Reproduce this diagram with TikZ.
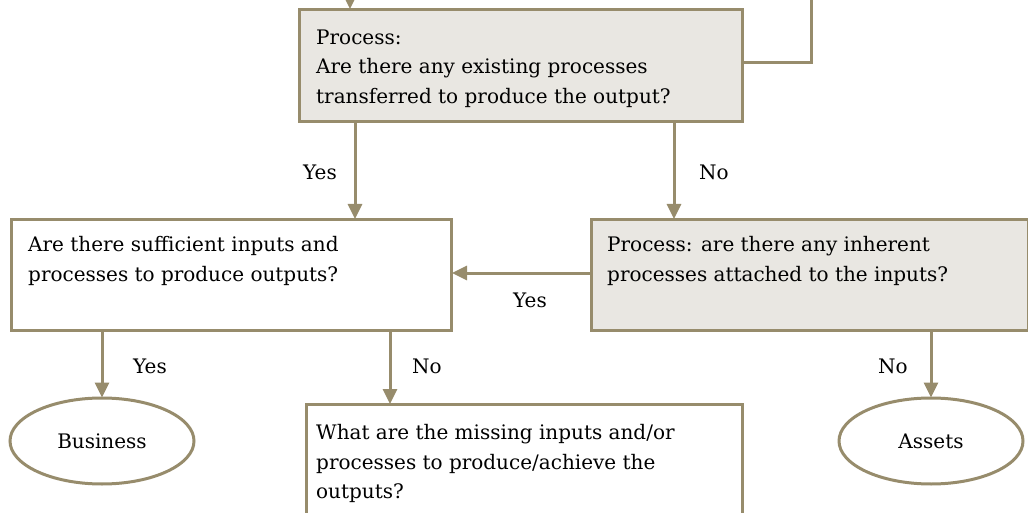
\documentclass[tikz,border=0pt]{standalone}
\usepackage{fontspec}
\setmainfont{DejaVu Serif}
\usetikzlibrary{arrows.meta,shapes.geometric}
\definecolor{edge}{HTML}{978C6C}
\definecolor{shade}{HTML}{E9E7E2}
\tikzset{
  box/.style={draw=edge, line width=3pt, rectangle, inner sep=0pt, anchor=north west},
  greybox/.style={box, fill=shade},
  oval/.style={draw=edge, line width=3pt, ellipse, inner sep=0pt, minimum width=184pt, minimum height=86pt, font=\fontsize{20}{25}\selectfont},
  txt/.style={inner sep=0pt, anchor=north west, align=left, font=\fontsize{20}{29.5}\selectfont},
  lbl/.style={inner sep=0pt, font=\fontsize{20}{25}\selectfont},
  conn/.style={draw=edge, line width=3pt},
  arr/.style={conn, -{Triangle[length=15pt,width=14pt]}, shorten >=-1pt}
}
\begin{document}
\begin{tikzpicture}[x=1pt,y=-1pt]
\useasboundingbox (0,0) rectangle (1028,513);
\clip (0,0) rectangle (1028,513);
% boxes
\node[greybox, minimum width=443pt, minimum height=112pt] (top) at (298,8) {};
\node[box, minimum width=440pt, minimum height=111pt] (left) at (10,218) {};
\node[greybox, minimum width=437pt, minimum height=111pt] (right) at (590,218) {};
\node[box, minimum width=436pt, minimum height=130pt] (bottom) at (305,403) {};
\node[oval] (business) at (102,441) {Business};
\node[oval] (assets) at (931,441) {Assets};
% texts
\node[txt] (toptext) at (316,29.5) {Process:\\Are there any existing processes\\transferred to produce the output?};
\node[txt] (lefttext) at (28,236.5) {Are there sufficient inputs and\\processes to produce outputs?};
\node[txt] (righttext) at (607,236.5) {Process: are there any inherent\\processes attached to the inputs?};
\node[txt] (bottomtext) at (316,424.5) {What are the missing inputs and/or\\processes to produce/achieve the\\outputs?};
% connectors
\coordinate (inTop) at (350,-5);
\coordinate (outTop) at (811,-5);
\draw[arr] (inTop) -- (inTop |- top.north);
\draw[conn] (top.east |- 0,63) -| (outTop);
\draw[arr] (top.south -| 355,0) -- (left.north -| 355,0);
\draw[arr] (top.south -| 674,0) -- (right.north -| 674,0);
\draw[arr] (right.west |- 0,273) -- (left.east |- 0,273);
\draw[arr] (left.south -| business.north) -- (business.north);
\draw[arr] (left.south -| 390,0) -- (bottom.north -| 390,0);
\draw[arr] (right.south -| assets.north) -- (assets.north);
% labels
\node[lbl] (yes1) at (320,172) {Yes};
\node[lbl] (no1) at (714,172) {No};
\node[lbl] (yes2) at (530,300) {Yes};
\node[lbl] (yes3) at (150,366) {Yes};
\node[lbl] (no2) at (427,366) {No};
\node[lbl] (no3) at (893,366) {No};
\end{tikzpicture}
\end{document}
